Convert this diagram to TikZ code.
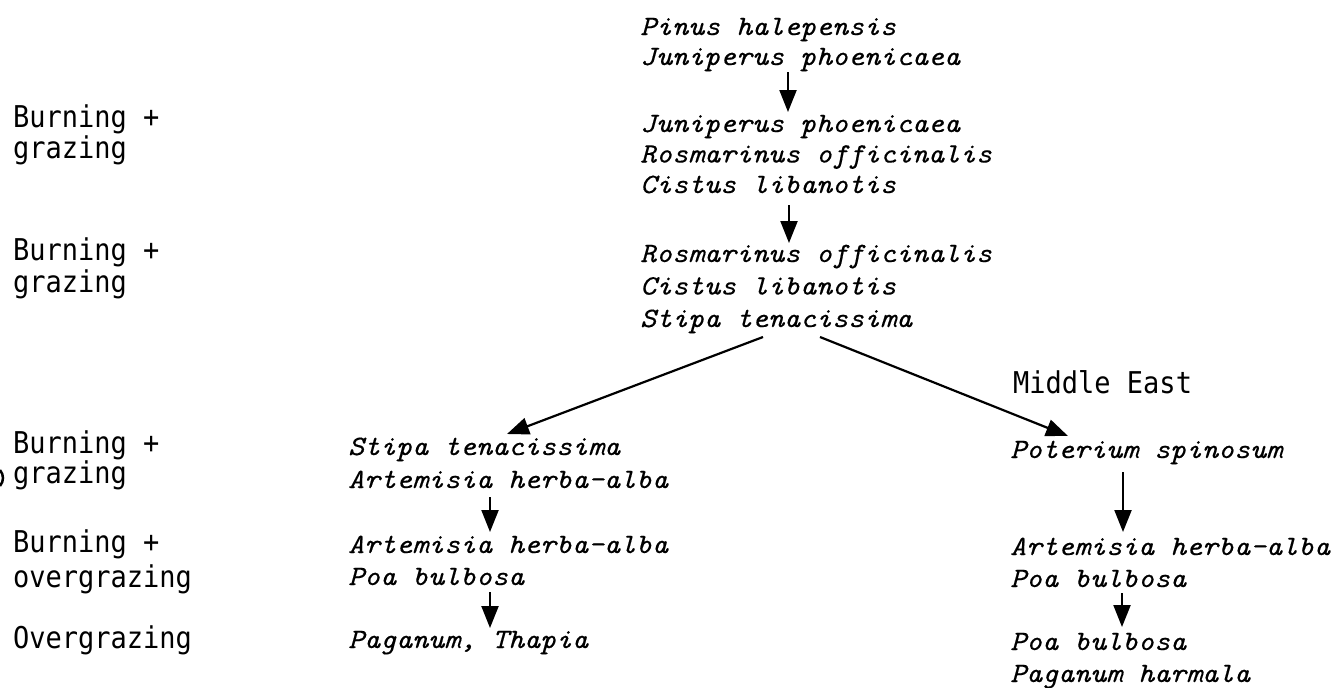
\documentclass[tikz,border=0pt]{standalone}
\usepackage{fontspec}
\usetikzlibrary{arrows.meta}
\newfontfamily\spfont[FakeStretch=1.088,FakeBold=0.4]{Latin Modern Mono}
\newfontfamily\labfont[FakeStretch=0.9]{DejaVu Sans Mono}
\tikzset{
  sp/.style={anchor=base west, inner sep=0pt, align=left, font=\spfont\itshape\fontsize{28}{#1}\selectfont},
  sp/.default=31,
  lab/.style={anchor=base west, inner sep=0pt, align=left, font=\labfont\fontsize{30}{#1}\selectfont},
  lab/.default=31,
  arr/.style={line width=2.2pt, -{Triangle[length=22pt,width=17pt]}}
}
\begin{document}
\begin{tikzpicture}[x=1pt,y=-1pt]
\useasboundingbox (0,0) rectangle (1336,688);
% left labels (anchored at the baseline of their last line)
\node[lab=28] (l1) at (13,158) {Burning +\\grazing};
\node[lab=32] (l2) at (13,292) {Burning +\\grazing};
\node[lab=30] (l3) at (13,483) {Burning +\\grazing};
\node[lab=35] (l4) at (13,587) {Burning +\\overgrazing};
\node[lab] (l5) at (13,648) {Overgrazing};
\node[lab] (me) at (1013,393) {Middle East};
% species blocks
\node[sp=30] (A) at (640,65) {Pinus halepensis\\Juniperus phoenicaea};
\node[sp=30.5] (B) at (640,193) {Juniperus phoenicaea\\Rosmarinus officinalis\\Cistus libanotis};
\node[sp=32.5] (C) at (640,327) {Rosmarinus officinalis\\Cistus libanotis\\Stipa tenacissima};
\node[sp=33] (D) at (348,488) {Stipa tenacissima\\Artemisia herba-alba};
\node[sp=32] (E) at (348,585) {Artemisia herba-alba\\Poa bulbosa};
\node[sp] (F) at (348,648) {Paganum, Thapia};
\node[sp] (P) at (1010,458) {Poterium spinosum};
\node[sp=32] (G) at (1010,587) {Artemisia herba-alba\\Poa bulbosa};
\node[sp=32] (H) at (1010,682) {Poa bulbosa\\Paganum harmala};
% connectors
\draw[arr] ([shift={(148,7)}]A.base west) -- ([shift={(148,-81)}]B.base west);
\draw[arr] ([shift={(149,12)}]B.base west) -- ([shift={(149,-84)}]C.base west);
\draw[arr] ([shift={(123,10)}]C.base west) -- ([shift={(159,-54)}]D.base west);
\draw[arr] ([shift={(180,10)}]C.base west) -- ([shift={(58,-22)}]P.base west);
\draw[arr] ([shift={(142,9)}]D.base west) -- ([shift={(142,-53)}]E.base west);
\draw[arr] ([shift={(142,7)}]E.base west) -- ([shift={(142,-20)}]F.base west);
\draw[arr] ([shift={(113,14)}]P.base west) -- ([shift={(113,-55)}]G.base west);
\draw[arr] ([shift={(112,6)}]G.base west) -- ([shift={(112,-55)}]H.base west);
% scan mark at left edge
\draw[line width=2.5pt] (0,470) .. controls (4,475) and (4,481) .. (0,486);
\end{tikzpicture}
\end{document}
